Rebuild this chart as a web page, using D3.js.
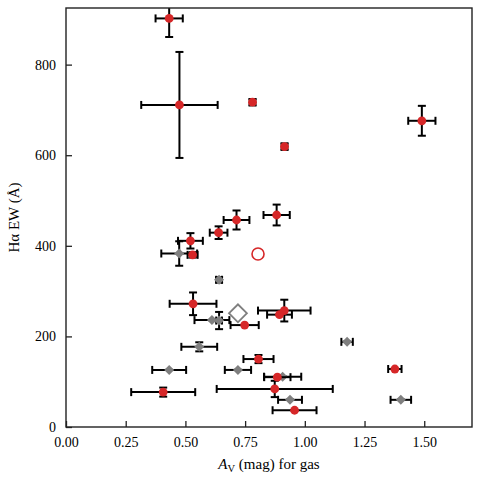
<!DOCTYPE html>
<html>
<head>
<meta charset="utf-8">
<script src="https://cdn.jsdelivr.net/npm/d3@7"></script>
<style>
    body { margin: 0; background: #fff; }
    text { font-family: "Liberation Serif", "DejaVu Serif", serif; fill: #000; }
</style>
</head>
<body>
<svg id="main-chart"></svg>
<script>
// red sample: A_V, EW, errors
const redX    = [0.432, 0.475, 0.781, 0.915, 1.490, 0.882, 0.714, 0.639, 0.521, 0.530, 0.532, 0.914, 0.894, 0.748, 0.806, 1.377, 0.885, 0.407, 0.874, 0.957];
const redY    = [902, 711, 717, 619, 676, 468, 457, 429, 411, 380, 272, 257, 248, 225, 150, 128, 110, 77, 84, 37];
const redXerr = [0.057, 0.160, 0.012, 0.012, 0.057, 0.055, 0.054, 0.037, 0.052, 0.021, 0.098, 0.110, 0.052, 0.059, 0.063, 0.028, 0.055, 0.134, 0.243, 0.092];
const redYerr = [41, 117, 7, 7, 33, 23, 21, 14, 17, 6, 25, 24, 0, 0, 9, 0, 0, 10, 18, 0];

// gray sample
const grayX    = [0.474, 0.641, 0.611, 0.641, 1.177, 0.558, 0.432, 0.720, 0.907, 0.938, 1.402];
const grayY    = [383, 325, 236, 235, 188, 177, 126, 126, 111, 60, 60];
const grayXerr = [0.075, 0.012, 0.073, 0.012, 0.024, 0.075, 0.071, 0.055, 0.078, 0.050, 0.043];
const grayYerr = [27, 6, 0, 19, 0, 10, 0, 0, 0, 0, 0];

// open markers
const openCircle = [0.804, 382];
const openDiamond = [0.720, 251];

const xTicks = [0, 0.25, 0.5, 0.75, 1.0, 1.25, 1.5];
const yTicks = [0, 200, 400, 600, 800];

const W = 480, H = 480;
const margin = { top: 8, right: 8, bottom: 53, left: 66 };
const red = '#d62728', gray = '#7f7f7f';

const svg = d3.select('#main-chart')
    .attr('width', W)
    .attr('height', H);

const x = d3.scaleLinear().domain([0, 1.70]).range([margin.left, W - margin.right]);
const y = d3.scaleLinear().domain([0, 925]).range([H - margin.bottom, margin.top]);

function errorbars(g, xs, ys, xe, ye) {
    const pts = xs.map((v, i) => ({ x: v, y: ys[i], xe: xe[i], ye: ye[i] }));
    const cap = 4;
    pts.forEach(d => {
        const cx = x(d.x), cy = y(d.y);
        const x0 = x(d.x - d.xe), x1 = x(d.x + d.xe);
        const y0 = y(d.y - d.ye), y1 = y(d.y + d.ye);
        const lines = [
            [x0, cy, x1, cy], [cx, y0, cx, y1],
            [x0, cy - cap, x0, cy + cap], [x1, cy - cap, x1, cy + cap],
            [cx - cap, y0, cx + cap, y0], [cx - cap, y1, cx + cap, y1]
        ];
        g.selectAll(null)
            .data(lines)
            .enter()
            .append('line')
            .attr('x1', l => l[0]).attr('y1', l => l[1])
            .attr('x2', l => l[2]).attr('y2', l => l[3])
            .attr('stroke', '#000')
            .attr('stroke-width', 2);
    });
    return pts;
}

const plot = svg.append('g').attr('clip-path', 'url(#clip)');
svg.append('clipPath').attr('id', 'clip')
    .append('rect')
    .attr('x', margin.left).attr('y', margin.top)
    .attr('width', W - margin.left - margin.right)
    .attr('height', H - margin.top - margin.bottom);

// gray diamonds
const grayPts = errorbars(plot.append('g'), grayX, grayY, grayXerr, grayYerr);
plot.append('g')
    .selectAll('path')
    .data(grayPts)
    .enter()
    .append('path')
    .attr('d', d3.symbol(d3.symbolSquare, 50))
    .attr('transform', d => `translate(${x(d.x)},${y(d.y)}) rotate(45)`)
    .attr('fill', gray);

// red circles
const redPts = errorbars(plot.append('g'), redX, redY, redXerr, redYerr);
plot.append('g')
    .selectAll('circle')
    .data(redPts)
    .enter()
    .append('circle')
    .attr('cx', d => x(d.x))
    .attr('cy', d => y(d.y))
    .attr('r', 4.4)
    .attr('fill', red);

// open markers
plot.append('circle')
    .attr('cx', x(openCircle[0]))
    .attr('cy', y(openCircle[1]))
    .attr('r', 6)
    .attr('fill', 'none')
    .attr('stroke', red)
    .attr('stroke-width', 1.6);

plot.append('path')
    .attr('d', d3.symbol(d3.symbolSquare, 160))
    .attr('transform', `translate(${x(openDiamond[0])},${y(openDiamond[1])}) rotate(45)`)
    .attr('fill', 'none')
    .attr('stroke', gray)
    .attr('stroke-width', 1.8);

// axes
const xAxis = svg.append('g')
    .attr('transform', `translate(0, ${H - margin.bottom})`)
    .call(d3.axisBottom(x).tickValues(xTicks).tickFormat(d3.format('.2f')).tickSizeInner(-6).tickSizeOuter(0).tickPadding(10));
const yAxis = svg.append('g')
    .attr('transform', `translate(${margin.left}, 0)`)
    .call(d3.axisLeft(y).tickValues(yTicks).tickSizeInner(-6).tickSizeOuter(0).tickPadding(10));

[xAxis, yAxis].forEach(a => {
    a.select('.domain').remove();
    a.selectAll('line').attr('stroke', '#222').attr('stroke-width', 1.3);
    a.selectAll('text')
        .style('font-family', '"Liberation Serif", serif')
        .style('font-size', '14px')
        .attr('fill', '#000');
});

svg.append('rect')
    .attr('x', margin.left)
    .attr('y', margin.top)
    .attr('width', W - margin.left - margin.right)
    .attr('height', H - margin.top - margin.bottom)
    .attr('fill', 'none')
    .attr('stroke', '#222')
    .attr('stroke-width', 1.4);

// axis labels
const xl = svg.append('text')
    .attr('x', (margin.left + W - margin.right) / 2)
    .attr('y', 469)
    .attr('text-anchor', 'middle')
    .style('font-size', '15px');
xl.append('tspan').style('font-style', 'italic').text('A');
xl.append('tspan').attr('dy', 3).style('font-size', '10.5px').text('V');
xl.append('tspan').attr('dy', -3).text(' (mag) for gas');

svg.append('text')
    .attr('transform', `translate(19, ${(margin.top + H - margin.bottom) / 2}) rotate(-90)`)
    .attr('text-anchor', 'middle')
    .style('font-size', '15px')
    .text('Hα EW (Å)');
</script>
</body>
</html>
